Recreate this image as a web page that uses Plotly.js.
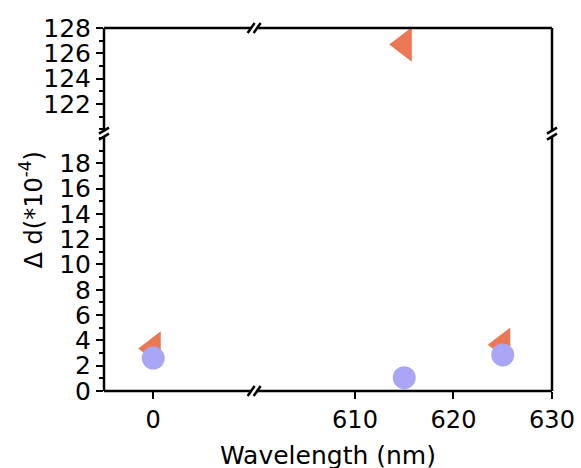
<!DOCTYPE html>
<html>
<head>
<meta charset="utf-8">
<script src="https://cdn.plot.ly/plotly-3.0.1.min.js"></script>
<style>html,body{margin:0;padding:0;background:#fff;}#chart{width:581px;height:468px;}</style>
</head>
<body>
<div id="chart"></div>
<script>
// ---- data ----
var wavelength = [0, 615, 625];
var triangleValues = [3.35, 126.7, 3.65];
var circleValues = [2.6, 1.05, 2.85];
var xTicksLeft = [0];
var xTicksRight = [610, 620, 630];
var yTicksLower = [0, 2, 4, 6, 8, 10, 12, 14, 16, 18];
var yTicksUpper = [122, 124, 126, 128];

// ---- axis break settings ----
var xBreakValue = 300;   // wavelengths above go to right segment
var yBreakValue = 60;    // values above go to upper segment

var orange = '#EC7755';
var lavender = '#A9A6F6';

function splitSeries(xs, ys, name, marker) {
  var groups = {};
  xs.forEach(function (x, i) {
    var xa = x > xBreakValue ? 'x2' : 'x';
    var ya = ys[i] > yBreakValue ? 'y2' : 'y';
    var key = xa + ya;
    if (!groups[key]) groups[key] = {x: [], y: [], xaxis: xa, yaxis: ya};
    groups[key].x.push(x);
    groups[key].y.push(ys[i]);
  });
  return Object.keys(groups).map(function (k) {
    var g = groups[k];
    return {type: 'scatter', mode: 'markers', x: g.x, y: g.y, xaxis: g.xaxis, yaxis: g.yaxis,
            name: name, showlegend: false, cliponaxis: false, marker: marker, hoverinfo: 'x+y'};
  });
}

var traces = [].concat(
  splitSeries(wavelength, triangleValues, 'triangle', {symbol: 'triangle-left', size: 30, color: orange, line: {width: 0}}),
  splitSeries(wavelength, circleValues, 'circle', {symbol: 'circle', size: 23, color: lavender, line: {width: 0}})
);

var W = 448, H = 363; // plot area in px
var px = 1 / W, py = 1 / H;
var xL = [0, 0.3298], xR = [0.3404, 1];
var yLo = [0, 0.697], yUp = [0.721, 1];
var xb = (xL[1] + xR[0]) / 2;
var yb = (yLo[1] + yUp[0]) / 2;

var FF = 'DejaVu Sans, Liberation Sans, Arial, sans-serif';
var baseAxis = {showgrid: false, zeroline: false, showline: false, ticks: 'outside', ticklen: 7,
                tickwidth: 2, tickcolor: '#000', fixedrange: true};
var xTickFont = {family: FF, size: 24, color: '#000'};
var yTickFont = {family: FF, size: 25, color: '#000'};

function line(x0, y0, x1, y1) {
  return {type: 'line', xref: 'paper', yref: 'paper', x0: x0, y0: y0, x1: x1, y1: y1,
          line: {color: '#000', width: 2.5}, layer: 'above'};
}
var g = 3; // half gap px
var shapes = [
  line(0, 0, xb - g * px, 0), line(xb + g * px, 0, 1, 0),
  line(0, 1, xb - g * px, 1), line(xb + g * px, 1, 1, 1),
  line(0, 0, 0, yb - g * py), line(0, yb + g * py, 0, 1),
  line(1, 0, 1, yb - g * py), line(1, yb + g * py, 1, 1)
];
[0, 1].forEach(function (yy) {
  [-3, 3].forEach(function (o) {
    shapes.push(line(xb + (o - 3.5) * px, yy - 5 * py, xb + (o + 3.5) * px, yy + 5 * py));
  });
});
[0, 1].forEach(function (xx) {
  [-3, 3].forEach(function (o) {
    shapes.push(line(xx - 5 * px, yb + (o - 3) * py, xx + 5 * px, yb + (o + 3) * py));
  });
});

var minorY = {ticks: 'outside', ticklen: 4, tickwidth: 2, tickcolor: '#000', dtick: 1, tick0: 0, showgrid: false};

var layout = {
  width: 581, height: 468,
  margin: {l: 104, r: 29, t: 28, b: 77},
  paper_bgcolor: '#fff', plot_bgcolor: 'rgba(0,0,0,0)',
  showlegend: false,
  font: {family: FF, color: '#000'},
  xaxis: Object.assign({}, baseAxis, {domain: xL, range: [-5, 10], tickvals: xTicksLeft, anchor: 'y', tickfont: xTickFont}),
  xaxis2: Object.assign({}, baseAxis, {domain: xR, range: [600, 630], tickvals: xTicksRight, anchor: 'y', tickfont: xTickFont}),
  yaxis: Object.assign({}, baseAxis, {domain: yLo, range: [0, 20], tickvals: yTicksLower, anchor: 'x', tickfont: yTickFont, minor: minorY}),
  yaxis2: Object.assign({}, baseAxis, {domain: yUp, range: [120, 128], tickvals: yTicksUpper, anchor: 'x', tickfont: yTickFont, minor: minorY}),
  shapes: shapes,
  annotations: [
    {text: 'Wavelength (nm)', xref: 'paper', yref: 'paper', x: 0.5, y: -0.178, xanchor: 'center', yanchor: 'middle',
     showarrow: false, font: {family: FF, size: 25, color: '#000'}},
    {text: '\u0394 d(*10<sup>-4</sup>)', xref: 'paper', yref: 'paper', x: -0.163, y: 0.5, xanchor: 'center', yanchor: 'middle',
     textangle: -90, showarrow: false, font: {family: FF, size: 24, color: '#000'}}
  ]
};

Plotly.newPlot('chart', traces, layout, {displayModeBar: false, staticPlot: true});
</script>
</body>
</html>
